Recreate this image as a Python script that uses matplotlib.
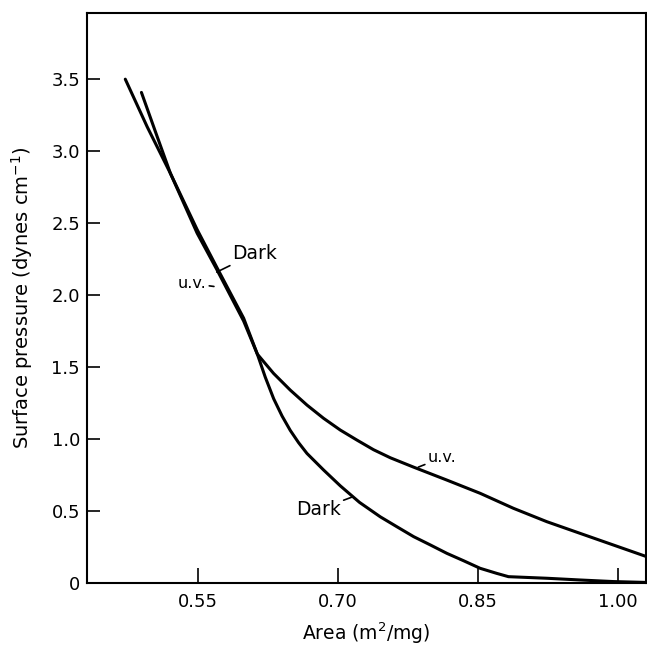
import matplotlib
matplotlib.use("Agg")
import matplotlib.pyplot as plt

plt.rcParams['font.family'] = ['DejaVu Sans']

# Data
dark_area = [0.472, 0.4954, 0.5204, 0.549, 0.5703, 0.5988, 0.6135, 0.622, 0.631, 0.640,
             0.6488, 0.6577, 0.6667, 0.6845, 0.7024, 0.723, 0.7452, 0.763, 0.781, 0.799,
             0.8166, 0.8344, 0.8523, 0.870, 0.8826, 0.9237, 0.9593, 0.995, 1.03]
dark_pressure = [3.50, 3.17, 2.845, 2.455, 2.19, 1.84, 1.59, 1.43, 1.28, 1.16,
                 1.06, 0.975, 0.90, 0.785, 0.675, 0.560, 0.460, 0.391, 0.322, 0.264,
                 0.206, 0.155, 0.102, 0.067, 0.044, 0.033, 0.021, 0.010, 0.004]

uv_area = [0.4893, 0.5048, 0.5204, 0.549, 0.5703, 0.5988, 0.6135, 0.6309, 0.6488, 0.6667,
           0.6845, 0.7024, 0.7202, 0.738, 0.756, 0.7809, 0.8166, 0.8523, 0.8879, 0.9237,
           0.9593, 0.995, 1.0307]
uv_pressure = [3.408, 3.126, 2.845, 2.43, 2.175, 1.82, 1.59, 1.456, 1.340, 1.236,
               1.144, 1.0625, 0.993, 0.926, 0.870, 0.805, 0.715, 0.623, 0.519, 0.426,
               0.345, 0.264, 0.183]

x_ticks = [0.55, 0.70, 0.85, 1.00]
x_ticklabels = ["0.55", "0.70", "0.85", "1.00"]
y_ticks = [0, 0.5, 1.0, 1.5, 2.0, 2.5, 3.0, 3.5]
y_ticklabels = ["0", "0.5", "1.0", "1.5", "2.0", "2.5", "3.0", "3.5"]

fig = plt.figure(figsize=(6.47, 6.48), dpi=100)
ax = fig.add_axes([0.1345, 0.1003, 0.864, 0.8797])

ax.plot(dark_area, dark_pressure, color="black", lw=2.2,
        solid_capstyle="round", solid_joinstyle="round")
ax.plot(uv_area, uv_pressure, color="black", lw=2.2,
        solid_capstyle="round", solid_joinstyle="round")

ax.set_xlim(0.431, 1.030)
ax.set_ylim(0, 3.96)

ax.set_xticks(x_ticks)
ax.set_xticklabels(x_ticklabels)
ax.set_yticks(y_ticks)
ax.set_yticklabels(y_ticklabels)

ax.tick_params(axis="both", direction="in", width=1.2, labelsize=13)
ax.tick_params(axis="y", length=9, pad=5)
ax.tick_params(axis="x", length=10.5, pad=7)
for s in ax.spines.values():
    s.set_linewidth(1.5)

ax.set_xlabel("Area (m$^2$/mg)", fontsize=13.5, labelpad=7)
ax.set_ylabel("Surface pressure (dynes cm$^{-1}$)", fontsize=14, labelpad=12)

arrow = dict(arrowstyle="-", color="black", lw=1.2, shrinkA=0, shrinkB=0)
ax.annotate("Dark", xy=(0.570, 2.16), xytext=(0.587, 2.29), fontsize=13.5,
            ha="left", va="center", arrowprops=arrow)
ax.annotate("u.v.", xy=(0.567, 2.06), xytext=(0.559, 2.08), fontsize=11.5,
            ha="right", va="center", arrowprops=arrow)
ax.annotate("u.v.", xy=(0.786, 0.805), xytext=(0.796, 0.87), fontsize=11.5,
            ha="left", va="center", arrowprops=arrow)
ax.annotate("Dark", xy=(0.715, 0.597), xytext=(0.703, 0.51), fontsize=13.5,
            ha="right", va="center", arrowprops=arrow)

fig.savefig("out.png", dpi=100)
